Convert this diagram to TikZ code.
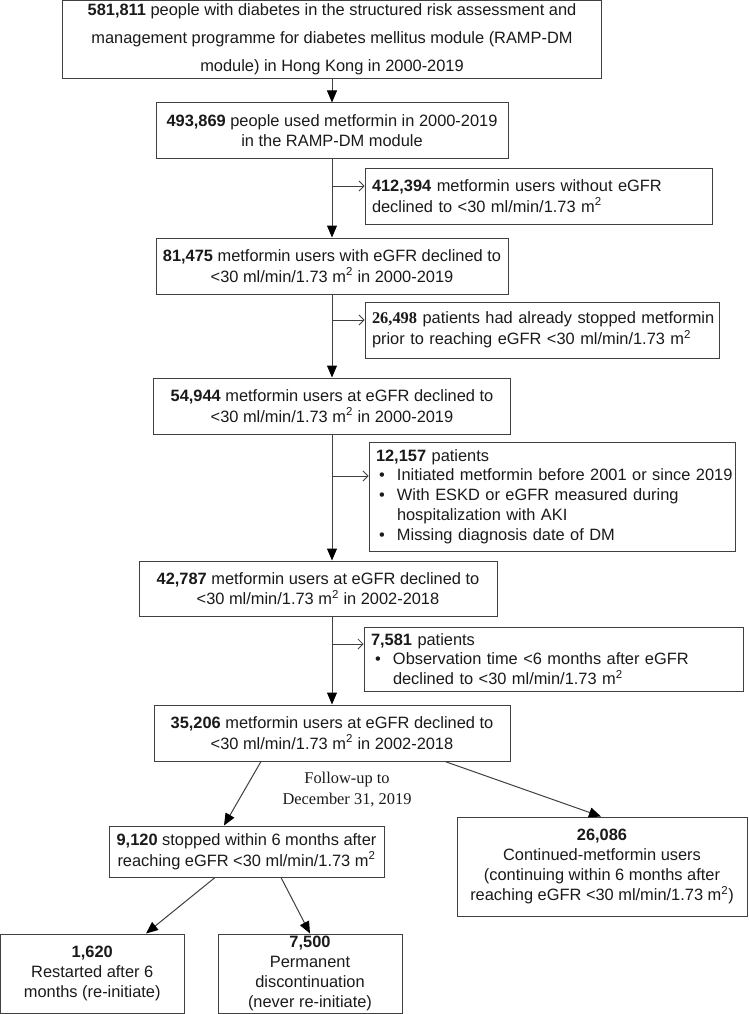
\documentclass[tikz,border=0pt]{standalone}
\usepackage{fontspec}
\setmainfont{Liberation Sans}
\newfontfamily\seriffont{Liberation Serif}
\usetikzlibrary{arrows.meta}
\definecolor{ln}{HTML}{404040}
\definecolor{tx}{HTML}{1A1A1A}
\newcommand{\msq}{m\textsuperscript{2}}
\newcommand{\bul}{\hspace*{3pt}\makebox[18pt][l]{•}}
\begin{document}
\begin{tikzpicture}[x=1pt,y=-1pt,
 box/.style={draw=ln, line width=1pt, rectangle, inner sep=0pt, align=center, text=tx, font=\fontsize{16.4}{20.5}\selectfont},
 lbox/.style={box, align=left, inner xsep=7pt},
 mainarr/.style={draw=ln, line width=1pt, -{Triangle[length=12pt,width=10pt,color=black]}},
 sidearr/.style={draw=ln, line width=0.8pt, -{Straight Barb[length=5pt,width=10pt]}},
 note/.style={align=center, text=tx, inner sep=0pt, font=\seriffont\fontsize{16.4}{21}\selectfont}
]
\useasboundingbox (0,0) rectangle (748,1014);
\fill[white] (0,0) rectangle (748,1014);

\node[box, minimum width=539pt, minimum height=78.5pt, font=\fontsize{16.4}{28}\selectfont] (b1) at (332,39.75)
 {\textbf{581,811} people with diabetes in the structured risk assessment and\\management programme for diabetes mellitus module (RAMP-DM\\module) in Hong Kong in 2000-2019};
\node[box, minimum width=352pt, minimum height=55pt] (b2) at (332,130.5)
 {\textbf{493,869} people used metformin in 2000-2019\\in the RAMP-DM module};
\node[lbox, minimum width=347pt, minimum height=56pt, text width=333pt] (b3) at (538.5,196)
 {\mbox{\textbf{412,394} metformin users without eGFR}\\\mbox{declined to <30 ml/min/1.73 \msq}};
\node[box, minimum width=352pt, minimum height=56pt] (b4) at (332,266)
 {\textbf{81,475} metformin users with eGFR declined to\\<30 ml/min/1.73 \msq{} in 2000-2019};
\node[lbox, minimum width=354pt, minimum height=56pt, text width=340pt] (b5) at (542,330)
 {\mbox{{\seriffont\bfseries 26,498} patients had already stopped metformin}\\\mbox{prior to reaching eGFR <30 ml/min/1.73 \msq}};
\node[box, minimum width=357pt, minimum height=56pt] (b6) at (332,406)
 {\textbf{54,944} metformin users at eGFR declined to\\<30 ml/min/1.73 \msq{} in 2000-2019};
\node[lbox, minimum width=366pt, minimum height=109pt, text width=352pt, font=\fontsize{16.4}{19.75}\selectfont] (b7) at (552,496.5)
 {\textbf{12,157} patients\\
  \mbox{\bul Initiated metformin before 2001 or since 2019}\\
  \mbox{\bul With ESKD or eGFR measured during}\\
  \mbox{\hspace*{21pt}hospitalization with AKI}\\
  \mbox{\bul Missing diagnosis date of DM}};
\node[box, minimum width=358pt, minimum height=55pt] (b8) at (318,588.5)
 {\textbf{42,787} metformin users at eGFR declined to\\<30 ml/min/1.73 \msq{} in 2002-2018};
\node[lbox, minimum width=379pt, minimum height=64pt, text width=365pt, font=\fontsize{16.4}{19.5}\selectfont] (b9) at (553.5,659)
 {\textbf{7,581} patients\\
  \mbox{\hspace*{4pt}\makebox[18pt][l]{•}Observation time <6 months after eGFR}\\
  \mbox{\hspace*{22pt}declined to <30 ml/min/1.73 \msq}};
\node[box, minimum width=356pt, minimum height=56pt] (b10) at (332,733)
 {\textbf{35,206} metformin users at eGFR declined to\\<30 ml/min/1.73 \msq{} in 2002-2018};
\node[box, minimum width=275pt, minimum height=51pt] (b11) at (246.5,851.5)
 {\textbf{9,120} stopped within 6 months after\\reaching eGFR <30 ml/min/1.73 \msq};
\node[box, minimum width=290pt, minimum height=99pt, font=\fontsize{16.4}{20.3}\selectfont] (b12) at (602,866.5)
 {\textbf{26,086}\\Continued-metformin users\\(continuing within 6 months after\\reaching eGFR <30 ml/min/1.73 \msq)};
\node[box, minimum width=183.5pt, minimum height=79pt, font=\fontsize{16.4}{19.7}\selectfont] (b13) at (92.25,973.5)
 {\textbf{1,620}\\Restarted after 6\\months (re-initiate)};
\node[box, minimum width=184pt, minimum height=79pt, font=\fontsize{16.4}{19.7}\selectfont] (b14) at (310,973.5)
 {\textbf{7,500}\\Permanent\\discontinuation\\(never re-initiate)};
\node[note] (fu) at (347,789.5) {Follow-up to\\December 31, 2019};

% main column
\draw[mainarr] (b1.south) -- (b2.north);
\draw[mainarr] (b2.south) -- (b4.north);
\draw[mainarr] (b4.south) -- (b6.north);
\draw[mainarr] (b6.south) -- (b6.south |- b8.north);
\draw[mainarr] (b6.south |- b8.south) -- (b10.north);

% side exclusions
\coordinate (j3) at (332,186);
\coordinate (j5) at (332,320);
\coordinate (j7) at (332,476);
\coordinate (j9) at (332,644);
\draw[sidearr] (j3) -- (j3 -| b3.west);
\draw[sidearr] (j5) -- (j5 -| b5.west);
\draw[sidearr] (j7) -- (j7 -| b7.west);
\draw[sidearr] (j9) -- (j9 -| b9.west);

% branches
\draw[mainarr] ([xshift=-71pt]b10.south) -- ([xshift=-22.5pt]b11.north);
\draw[mainarr] ([xshift=113pt]b10.south) -- ([xshift=-1pt]b12.north);
\draw[mainarr] ([xshift=-31.5pt]b11.south) -- ([xshift=53.75pt]b13.north);
\draw[mainarr] ([xshift=34.5pt]b11.south) -- (b14.north);
\end{tikzpicture}
\end{document}
